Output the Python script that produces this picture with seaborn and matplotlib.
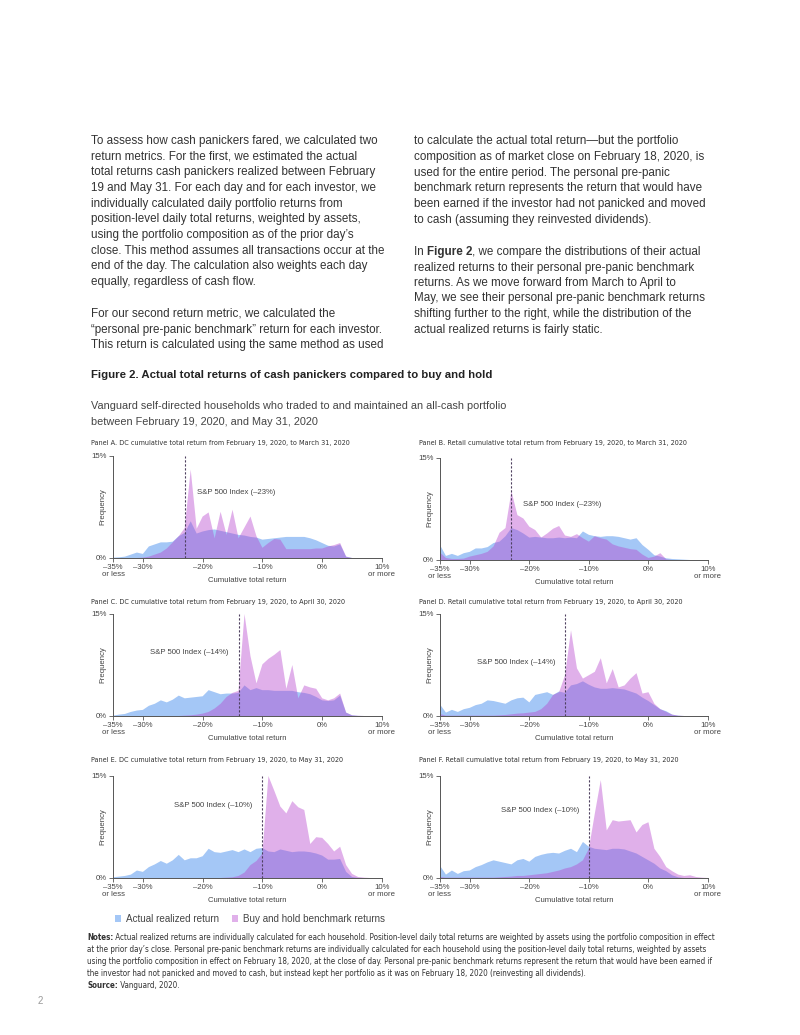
import numpy as np
import pandas as pd
import matplotlib
matplotlib.use("Agg")
import matplotlib.pyplot as plt
from matplotlib.patches import Patch
from matplotlib import font_manager
import seaborn as sns

# cumulative total return bins (%), first is "-35% or less", last is "10% or more"
returns = list(range(-35, 11))

# frequency (%) per bin
actual_a = [0.05, 0.1, 0.2, 0.5, 0.8, 0.6, 1.7, 2.0, 2.3, 2.3,
            2.4, 3.2, 3.7, 5.4, 3.6, 3.9, 4.1, 4.2, 4.0, 3.8,
            3.6, 3.4, 3.3, 3.1, 3.0, 2.7, 2.8, 2.9, 3.0, 3.1,
            3.1, 3.1, 3.1, 2.9, 2.6, 2.2, 1.8, 1.7, 2.0, 0.2,
            0, 0, 0, 0, 0, 0]
bench_a = [0, 0, 0, 0, 0, 0.05, 0.2, 0.5, 0.8, 1.4,
           2.3, 3.2, 4.4, 13.0, 4.3, 6.1, 6.7, 2.9, 6.8, 3.4,
           7.1, 2.9, 4.5, 6.1, 3.2, 1.5, 2.2, 2.8, 2.7, 1.3,
           1.3, 1.3, 1.3, 1.3, 1.4, 1.4, 1.7, 1.9, 2.2, 0.2,
           0, 0, 0, 0, 0, 0]
actual_b = [2.2, 0.6, 0.9, 0.6, 1.0, 1.2, 1.7, 1.7, 1.9, 2.5,
            2.7, 3.5, 4.7, 4.4, 3.9, 3.3, 3.4, 3.3, 3.2, 3.2,
            3.3, 3.2, 3.3, 3.2, 4.2, 3.7, 3.5, 3.4, 3.5, 3.5,
            3.4, 3.2, 3.0, 3.2, 2.2, 1.5, 0.7, 0.5, 0.25, 0.15,
            0.1, 0.05, 0, 0, 0, 0]
bench_b = [1.1, 0.3, 0.15, 0.15, 0.2, 0.5, 0.7, 0.9, 1.2, 2.0,
           4.0, 4.7, 10.1, 6.6, 6.1, 4.9, 4.4, 3.3, 3.9, 4.6,
           5.0, 3.6, 3.4, 3.8, 3.2, 2.7, 3.5, 3.2, 3.0, 2.3,
           2.0, 1.8, 1.6, 1.5, 0.8, 0.3, 0.5, 1.0, 0.1, 0,
           0, 0, 0, 0, 0, 0]
actual_c = [0.05, 0.2, 0.3, 0.6, 0.8, 0.9, 1.5, 1.8, 2.3, 2.0,
            2.4, 3.0, 2.6, 2.7, 2.8, 2.9, 3.8, 3.5, 3.2, 3.3,
            3.3, 3.4, 4.5, 3.8, 4.1, 3.8, 3.8, 3.7, 3.7, 3.7,
            3.7, 3.5, 3.4, 3.2, 2.8, 2.3, 2.2, 2.3, 3.0, 0.5,
            0.1, 0.02, 0, 0, 0, 0]
bench_c = [0, 0, 0, 0, 0, 0, 0, 0, 0, 0,
           0, 0, 0.05, 0.1, 0.2, 0.35, 0.6, 1.1, 1.8, 2.8,
           3.4, 3.7, 15.0, 8.8, 4.8, 7.6, 8.4, 9.0, 9.7, 4.0,
           7.5, 2.6, 4.5, 4.2, 4.0, 2.6, 2.3, 2.6, 3.3, 0.5,
           0.1, 0.03, 0, 0, 0, 0]
actual_d = [1.7, 0.5, 0.9, 0.6, 1.0, 1.2, 1.6, 1.8, 2.3, 2.2,
            2.0, 1.8, 2.3, 2.6, 2.7, 2.0, 3.1, 3.3, 3.5, 3.1,
            3.6, 3.4, 4.5, 4.7, 5.1, 4.6, 4.2, 4.0, 4.0, 4.1,
            4.0, 3.9, 3.6, 3.3, 2.7, 2.2, 1.6, 1.0, 0.7, 0.2,
            0.05, 0, 0, 0, 0, 0]
bench_d = [0.3, 0.05, 0.05, 0.05, 0.05, 0.05, 0.05, 0.05, 0.05, 0.05,
           0.1, 0.15, 0.25, 0.35, 0.4, 0.5, 0.6, 1.0, 1.8, 3.1,
           3.5, 6.0, 12.6, 7.0, 5.5, 6.0, 6.5, 8.5, 4.8, 6.9,
           4.2, 4.5, 5.5, 6.3, 3.3, 3.5, 1.8, 1.0, 0.6, 0.2,
           0.05, 0, 0, 0, 0, 0]
actual_e = [0.1, 0.2, 0.3, 0.5, 1.1, 0.9, 1.6, 2.0, 2.5, 2.1,
            2.6, 3.4, 2.6, 2.9, 2.9, 3.2, 4.3, 3.8, 3.7, 3.9,
            4.1, 3.8, 4.2, 3.8, 4.3, 4.4, 3.9, 3.8, 4.2, 4.0,
            3.8, 3.9, 3.9, 3.8, 3.6, 3.3, 2.7, 2.7, 2.8, 0.9,
            0.15, 0.02, 0, 0, 0, 0]
bench_e = [0, 0, 0, 0, 0, 0, 0, 0, 0, 0,
           0, 0, 0, 0, 0, 0, 0, 0, 0, 0.05,
           0.1, 0.3, 0.8, 1.9, 2.5, 3.6, 15.0, 12.8, 10.5, 9.5,
           11.3, 10.4, 10.0, 5.0, 6.0, 5.9, 5.0, 3.9, 4.6, 1.9,
           0.6, 0.15, 0.05, 0, 0, 0]
actual_f = [1.8, 0.5, 1.1, 0.6, 1.0, 1.1, 1.6, 1.9, 2.3, 2.6,
            2.4, 2.2, 2.0, 2.6, 2.8, 2.4, 3.1, 3.4, 3.6, 3.7,
            3.6, 4.0, 4.3, 3.8, 5.3, 4.6, 4.3, 4.2, 4.1, 4.3,
            4.3, 4.2, 3.9, 3.6, 3.1, 2.6, 2.1, 1.4, 1.0, 0.4,
            0.1, 0, 0, 0, 0, 0]
bench_f = [0.15, 0.05, 0.05, 0.05, 0.05, 0.05, 0.05, 0.05, 0.05, 0.05,
           0.1, 0.15, 0.2, 0.3, 0.3, 0.4, 0.5, 0.6, 0.7, 0.9,
           1.1, 1.4, 1.6, 2.0, 2.6, 4.3, 9.5, 14.4, 7.0, 8.5,
           8.3, 8.4, 8.5, 6.7, 7.8, 8.2, 4.3, 3.1, 1.6, 1.0,
           0.5, 0.3, 0.4, 0.15, 0.05, 0]

sp500 = [-23, -23, -14, -14, -10, -10]
panel_titles = [
    "Panel A. DC cumulative total return from February 19, 2020, to March 31, 2020",
    "Panel B. Retail cumulative total return from February 19, 2020, to March 31, 2020",
    "Panel C. DC cumulative total return from February 19, 2020, to April 30, 2020",
    "Panel D. Retail cumulative total return from February 19, 2020, to April 30, 2020",
    "Panel E. DC cumulative total return from February 19, 2020, to May 31, 2020",
    "Panel F. Retail cumulative total return from February 19, 2020, to May 31, 2020",
]
tick_vals = [-35, -30, -20, -10, 0, 10]
tick_labels = ["\u201335%\nor less", "\u201330%", "\u201320%", "\u201310%", "0%", "10%\nor more"]
series_labels = ["Actual realized return", "Buy and hold benchmark returns"]

actual = [actual_a, actual_b, actual_c, actual_d, actual_e, actual_f]
bench = [bench_a, bench_b, bench_c, bench_d, bench_e, bench_f]

sns.set_theme(style="white")
plt.rcParams["font.family"] = ["Liberation Sans", "DejaVu Sans"]

# a condensed face for the small print, if one is around
NARROW, STRETCH = "Liberation Sans", "normal"
for f in font_manager.fontManager.ttflist:
    if f.name == "Liberation Sans Narrow":
        NARROW, STRETCH = "Liberation Sans Narrow", "normal"
        break
    if f.name == "DejaVu Sans" and str(f.stretch) == "condensed":
        NARROW, STRETCH = "DejaVu Sans", "condensed"

W, H = 800, 1035
BLUE = "#a4c7f6"
PINK = "#b743cd"
PINK_ALPHA = 0.42
TXT = "#333333"
AXC = "#555555"

fig = plt.figure(figsize=(W / 100, H / 100), dpi=100)
renderer = fig.canvas.get_renderer()


def put(x, y, s, size, family="Liberation Sans", weight="normal", color=TXT, stretch="normal"):
    return fig.text(x / W, 1 - y / H, s, fontsize=size, family=[family, "DejaVu Sans"],
                    fontweight=weight, fontstretch=stretch, color=color, va="center", ha="left")


def lines(x, y0, step, block, size, **kw):
    for i, ln in enumerate(block.split("\n")):
        put(x, y0 + i * step, ln, size, **kw)


def rich(x, y, parts, size, **kw):
    cx = x
    for s, weight in parts:
        t = put(cx, y, s, size, weight=weight, **kw)
        cx += t.get_window_extent(renderer=renderer).width


def fit_size(s, width, **kw):
    t = put(0, 0, s, 10, **kw)
    w = t.get_window_extent(renderer=renderer).width
    t.remove()
    return 10 * width / w


# body copy
left1 = """To assess how cash panickers fared, we calculated two
return metrics. For the first, we estimated the actual
total returns cash panickers realized between February
19 and May 31. For each day and for each investor, we
individually calculated daily portfolio returns from
position-level daily total returns, weighted by assets,
using the portfolio composition as of the prior day\u2019s
close. This method assumes all transactions occur at the
end of the day. The calculation also weights each day
equally, regardless of cash flow."""
left2 = """For our second return metric, we calculated the
\u201cpersonal pre-panic benchmark\u201d return for each investor.
This return is calculated using the same method as used"""
right1 = """to calculate the actual total return\u2014but the portfolio
composition as of market close on February 18, 2020, is
used for the entire period. The personal pre-panic
benchmark return represents the return that would have
been earned if the investor had not panicked and moved
to cash (assuming they reinvested dividends)."""
right2 = """realized returns to their personal pre-panic benchmark
returns. As we move forward from March to April to
May, we see their personal pre-panic benchmark returns
shifting further to the right, while the distribution of the
actual realized returns is fairly static."""

BODY = 8.35
lines(91, 141, 15.65, left1, BODY)
lines(91, 314, 15.65, left2, BODY)
lines(414, 141, 15.8, right1, BODY)
rich(414, 252, [("In ", "normal"), ("Figure 2", "bold"),
                (", we compare the distributions of their actual", "normal")], BODY)
lines(414, 267.5, 15.5, right2, BODY)

put(91, 375, "Figure 2. Actual total returns of cash panickers compared to buy and hold",
    8.2, weight="bold", color="#222222")
lines(91, 406, 16, "Vanguard self-directed households who traded to and maintained an all-cash portfolio\n"
      "between February 19, 2020, and May 31, 2020", 7.8, color="#444444")

# panels
boxes = [(113, 456, 382, 558), (440, 458, 708, 560),
         (113, 614, 382, 716), (440, 614, 708, 716),
         (113, 776, 382, 878), (440, 776, 708, 878)]
title_pos = [(91, 443), (419, 443), (91, 602), (419, 602), (91, 760), (419, 760)]
label_pos = [(9.6, 9), (8.2, 8), (9.4, -7), (7.9, -7), (10.6, -7), (9.9, -7)]
TITLE = fit_size(panel_titles[0], 258, family=NARROW, stretch=STRETCH)

for i in range(6):
    l, t, r, b = boxes[i]
    ax = fig.add_axes([l / W, 1 - b / H, (r - l) / W, (b - t) / H])
    df = pd.DataFrame({"ret": returns, "actual": actual[i], "bench": bench[i]})
    sns.histplot(data=df, x="ret", weights="actual", discrete=True, element="poly", fill=True,
                 color=BLUE, alpha=1, linewidth=0, edgecolor="none", ax=ax)
    sns.histplot(data=df, x="ret", weights="bench", discrete=True, element="poly", fill=True,
                 color=PINK, alpha=PINK_ALPHA, linewidth=0, edgecolor="none", ax=ax)
    ax.axvline(sp500[i], color="#4d3f5e", lw=0.8, ls=(0, (2, 1.6)), zorder=5)
    ly, dx = label_pos[i]
    ax.annotate("S&P 500 Index (\u2013%d%%)" % abs(sp500[i]), xy=(sp500[i], ly),
                xytext=(dx, 0), textcoords="offset points",
                ha="left" if dx > 0 else "right", va="center", fontsize=5.6, color="#444444")
    ax.set_xlim(-35, 10)
    ax.set_ylim(0, 15)
    ax.set_xticks(tick_vals)
    ax.set_xticklabels(tick_labels, linespacing=0.85)
    ax.set_yticks([0, 15])
    ax.set_yticklabels(["0%", "15%"])
    ax.tick_params(axis="both", length=3, width=0.6, color=AXC, labelsize=5.6,
                   labelcolor="#444444", pad=1.5, bottom=True, left=True)
    for side in ["top", "right"]:
        ax.spines[side].set_visible(False)
    for side in ["left", "bottom"]:
        ax.spines[side].set_color(AXC)
        ax.spines[side].set_linewidth(0.7)
    ax.set_xlabel("Cumulative total return", fontsize=5.6, color="#444444")
    ax.set_ylabel("Frequency", fontsize=5.6, color="#444444")
    ax.xaxis.set_label_coords(0.5, -0.185)
    ax.yaxis.set_label_coords(-0.024, 0.5)
    ax.grid(False)
    tx, ty = title_pos[i]
    put(tx, ty, panel_titles[i], TITLE, family=NARROW, stretch=STRETCH)

handles = [Patch(facecolor=BLUE, edgecolor="none"),
           Patch(facecolor=PINK, alpha=PINK_ALPHA, edgecolor="none")]
fig.legend(handles, series_labels, loc="center left", bbox_to_anchor=(115 / W, 1 - 919 / H),
           ncol=2, frameon=False, fontsize=7.1, handlelength=0.65, handleheight=0.65,
           handletextpad=0.45, columnspacing=1.3, borderaxespad=0, borderpad=0,
           labelcolor="#444444")

# notes
note1 = ("Actual realized returns are individually calculated for each household. "
         "Position-level daily total returns are weighted by assets using the portfolio composition in effect")
note_rest = ("at the prior day\u2019s close. Personal pre-panic benchmark returns are individually calculated for each "
             "household using the position-level daily total returns, weighted by assets\n"
             "using the portfolio composition in effect on February 18, 2020, at the close of day. Personal pre-panic "
             "benchmark returns represent the return that would have been earned if\n"
             "the investor had not panicked and moved to cash, but instead kept her portfolio as it was on "
             "February 18, 2020 (reinvesting all dividends).")
NOTE = fit_size("Notes: " + note1, 624, family=NARROW, stretch=STRETCH)
rich(87, 938, [("Notes:", "bold"), (" " + note1, "normal")], NOTE, family=NARROW, stretch=STRETCH)
lines(87, 950, 11.6, note_rest, NOTE, family=NARROW, stretch=STRETCH)
rich(87, 985, [("Source:", "bold"), (" Vanguard, 2020.", "normal")], NOTE, family=NARROW, stretch=STRETCH)

put(38, 1001, "2", 7, color="#999999")

fig.savefig("out.png", dpi=100)
